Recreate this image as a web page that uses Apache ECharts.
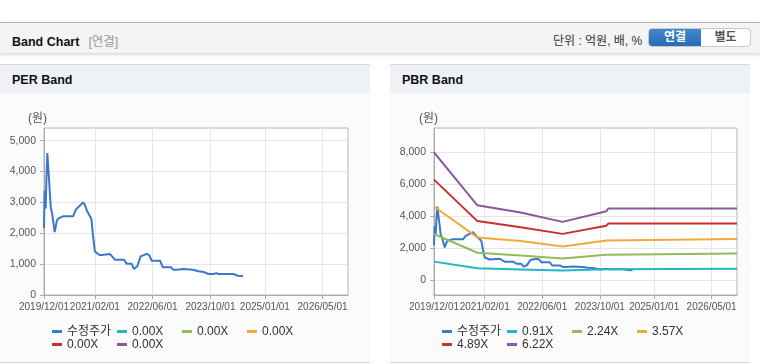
<!DOCTYPE html>
<html>
<head>
<meta charset="utf-8">
<script src="https://cdn.jsdelivr.net/npm/echarts@6/dist/echarts.min.js"></script>
<style>
  body { margin: 0; width: 760px; height: 364px; position: relative; overflow: hidden; background: #fff;
         font-family: 'Liberation Sans', 'Noto Sans CJK KR', sans-serif; }
  .top { position: absolute; left: 0; top: 22px; width: 760px; height: 30px; background: #f4f4f4;
         border-top: 1px solid #b9b9b9; box-shadow: 0 2px 3px rgba(0,0,0,.15); }
  .top .tit { position: absolute; left: 12px; top: 8px; font-size: 12.5px; font-weight: bold; color: #111; }
  .top .tit span { color: #999; font-weight: normal; margin-left: 9px; }
  .top .unit { position: absolute; left: 553px; top: 8px; font-size: 12px; color: #333; }
  .btns { position: absolute; left: 648px; top: 5px; width: 101px; height: 17px; border: 1px solid #c8c8c8;
          border-radius: 4px; background: #fff; overflow: hidden; }
  .btns .on { position: absolute; left: 0; top: 0; width: 52px; height: 17px; line-height: 17px; text-align: center;
              background: linear-gradient(#3f88d1, #2a6bb2); color: #fff; font-size: 12px; font-weight: bold; }
  .btns .off { position: absolute; left: 52px; top: 0; width: 49px; height: 17px; line-height: 17px; text-align: center;
               color: #555; font-size: 12px; font-weight: bold; }
  .panel { position: absolute; top: 64px; height: 297px; border-top: 1px solid #d6d6d6;
           border-bottom: 1px solid #d6d6d6; background: #fbfbfb; }
  .panel .hd { height: 28px; line-height: 31px; padding-left: 12px; background: #eef1f6;
               font-size: 12.5px; font-weight: bold; color: #111; }
  .panel .chart { position: absolute; left: 0; top: 28px; height: 269px; }
</style>
</head>
<body>
<div class="top">
  <div class="tit">Band Chart<span>[연결]</span></div>
  <div class="unit">단위 : 억원, 배, %</div>
  <div class="btns"><div class="on">연결</div><div class="off">별도</div></div>
</div>
<div class="panel" style="left:0;width:370px;">
  <div class="hd">PER Band</div>
  <div class="chart" id="per" style="width:370px;"></div>
</div>
<div class="panel" style="left:390px;width:360px;">
  <div class="hd">PBR Band</div>
  <div class="chart" id="pbr" style="width:360px;"></div>
</div>
<script>
// x축 범위와 라벨
var xMin = '2019-12-01';
var xMax = '2026-12-01';
var xLabelDates = ['2019-12-01', '2021-02-01', '2022-06-01', '2023-10-01', '2025-01-01', '2026-05-01'];

// 수정주가
var priceDates = ['2019-12-01', '2019-12-06', '2019-12-15', '2019-12-23', '2019-12-29', '2020-01-12', '2020-01-18',
  '2020-01-26', '2020-02-09', '2020-02-29', '2020-03-20', '2020-04-06', '2020-05-09', '2020-08-02', '2020-08-24',
  '2020-10-25', '2020-11-08', '2020-11-28', '2021-01-03', '2021-01-17', '2021-02-01', '2021-03-15', '2021-06-07',
  '2021-07-19', '2021-10-03', '2021-10-26', '2021-12-07', '2021-12-27', '2022-01-24', '2022-02-21', '2022-04-13',
  '2022-05-05', '2022-05-25', '2022-08-03', '2022-08-26', '2022-11-01', '2022-11-24', '2022-12-22', '2023-01-05',
  '2023-02-16', '2023-03-02', '2023-05-06', '2023-05-20', '2023-06-23', '2023-08-04', '2023-09-15', '2023-10-27',
  '2023-11-19', '2023-12-08', '2024-04-13', '2024-05-17', '2024-07-01'];
var priceValues = [2170, 3380, 2800, 4000, 4600, 4550, 3410,
  2870, 2600, 2040, 2440, 2490, 2550, 2550, 2760,
  3000, 2930, 2710, 2460, 1900, 1410, 1285, 1330,
  1145, 1145, 1015, 1015, 840, 930, 1250, 1330,
  1285, 1110, 1110, 900, 900, 820, 820, 865,
  840, 820, 820, 855, 770, 745, 680, 680,
  710, 680, 680, 625, 605];

// PER 밴드 (값 없음)
var perBandLabels = ['0.00X', '0.00X', '0.00X', '0.00X', '0.00X'];
var perYTicks = [0, 1000, 2000, 3000, 4000, 5000];

// PBR 밴드
var pbrBandLabels = ['0.91X', '2.24X', '3.57X', '4.89X', '6.22X'];
var pbrBandDates = ['2019-12-01', '2020-12-01', '2021-12-01', '2022-11-20', '2023-11-25', '2023-12-10', '2026-12-01'];
var pbr091 = [1150, 733, 660, 590, 670, 710, 710];
var pbr224 = [2880, 1705, 1528, 1340, 1575, 1654, 1654];
var pbr357 = [4603, 2670, 2450, 2092, 2470, 2575, 2575];
var pbr489 = [6290, 3690, 3307, 2890, 3400, 3536, 3536];
var pbr622 = [8000, 4680, 4226, 3642, 4310, 4478, 4478];
var pbrYTicks = [0, 2000, 4000, 6000, 8000];

var lineColors = ['#3b78c9', '#21b5c5', '#93bb5b', '#f1aa3a', '#c9302c', '#8c55a0'];
var numFont = "'Liberation Sans', sans-serif";
var txtFont = "'Liberation Sans', 'Noto Sans CJK KR', sans-serif";

function toTime(s) {
  return +echarts.time.parse(s);
}

function fmtDate(v) {
  return echarts.time.format(v, '{yyyy}/{MM}/{dd}', false);
}

function zip(dates, values) {
  var out = [];
  for (var i = 0; i < values.length; i++) {
    out.push([toTime(dates[i]), values[i]]);
  }
  return out;
}

function lineSeries(name, color, data) {
  return {
    name: name,
    type: 'line',
    color: color,
    showSymbol: false,
    symbol: 'none',
    lineStyle: { width: 2, color: color },
    emphasis: { disabled: true },
    data: data
  };
}

function makeOption(cfg) {
  var xTicks = xLabelDates.map(toTime);
  var bandKeys = ['b1', 'b2', 'b3', 'b4', 'b5'];
  var series = [lineSeries('수정주가', lineColors[0], zip(priceDates, priceValues))];
  bandKeys.forEach(function (k, i) {
    series.push(lineSeries(k, lineColors[i + 1], cfg.bands[i]));
  });
  var labelStyle = { fontSize: 10, color: '#555', margin: 7, fontFamily: numFont, formatter: fmtDate };

  return {
    animation: false,
    grid: {
      left: cfg.gridLeft, right: cfg.gridRight, top: 35, bottom: 67,
      show: true, backgroundColor: '#fff', borderColor: '#b4b4b4', borderWidth: 1,
      containLabel: false, outerBoundsMode: 'none'
    },
    graphic: [{
      type: 'text', left: cfg.nameLeft, top: 20,
      style: { text: '(원)', fontSize: 12, fill: '#555', fontFamily: txtFont }
    }],
    legend: {
      left: 52, top: 232, width: 262, padding: 0,
      icon: 'rect', itemWidth: 10, itemHeight: 3, itemGap: 0,
      selectedMode: false,
      textStyle: { fontSize: 12, color: '#333', width: 50, lineHeight: 13, fontFamily: txtFont },
      formatter: function (name) {
        var i = bandKeys.indexOf(name);
        return i < 0 ? name : cfg.labels[i];
      },
      data: ['수정주가'].concat(bandKeys)
    },
    xAxis: [{
      // 주 x축: 눈금, 격자, 두번째 이후 라벨
      type: 'value',
      min: toTime(xMin),
      max: toTime(xMax),
      axisLine: { show: true, onZero: false, lineStyle: { color: '#aaa' } },
      axisTick: { show: true, length: 4, customValues: xTicks, lineStyle: { color: '#aaa' } },
      axisLabel: Object.assign({ customValues: xTicks.slice(1) }, labelStyle),
      splitLine: { show: true, lineStyle: { color: '#e6e6e6' } }
    }, {
      // 첫 라벨 (겹침 숨김 방지)
      type: 'value',
      position: 'bottom',
      min: toTime(xMin),
      max: toTime(xMax),
      axisLine: { show: false },
      axisTick: { show: false },
      splitLine: { show: false },
      axisLabel: Object.assign({ customValues: xTicks.slice(0, 1) }, labelStyle)
    }],
    yAxis: {
      type: 'value',
      min: cfg.yMin,
      max: cfg.yMax,
      axisLine: { show: true, lineStyle: { color: '#aaa' } },
      axisTick: { show: true, length: 4, customValues: cfg.yTicks, lineStyle: { color: '#aaa' } },
      axisLabel: {
        customValues: cfg.yTicks, fontSize: 10.5, color: '#555', margin: 8, fontFamily: numFont,
        formatter: function (v) { return echarts.format.addCommas(v); }
      },
      splitLine: { show: true, lineStyle: { color: '#e6e6e6' } }
    },
    series: series
  };
}

// PER Band
var chartPer = echarts.init(document.getElementById('per'));
chartPer.setOption(makeOption({
  gridLeft: 44, gridRight: 22, nameLeft: 28,
  yMin: 0, yMax: 5410, yTicks: perYTicks,
  labels: perBandLabels,
  bands: [[], [], [], [], []]
}));

// PBR Band
var chartPbr = echarts.init(document.getElementById('pbr'));
chartPbr.setOption(makeOption({
  gridLeft: 44, gridRight: 13, nameLeft: 29,
  yMin: -942, yMax: 9527, yTicks: pbrYTicks,
  labels: pbrBandLabels,
  bands: [
    zip(pbrBandDates, pbr091),
    zip(pbrBandDates, pbr224),
    zip(pbrBandDates, pbr357),
    zip(pbrBandDates, pbr489),
    zip(pbrBandDates, pbr622)
  ]
}));
</script>
</body>
</html>
